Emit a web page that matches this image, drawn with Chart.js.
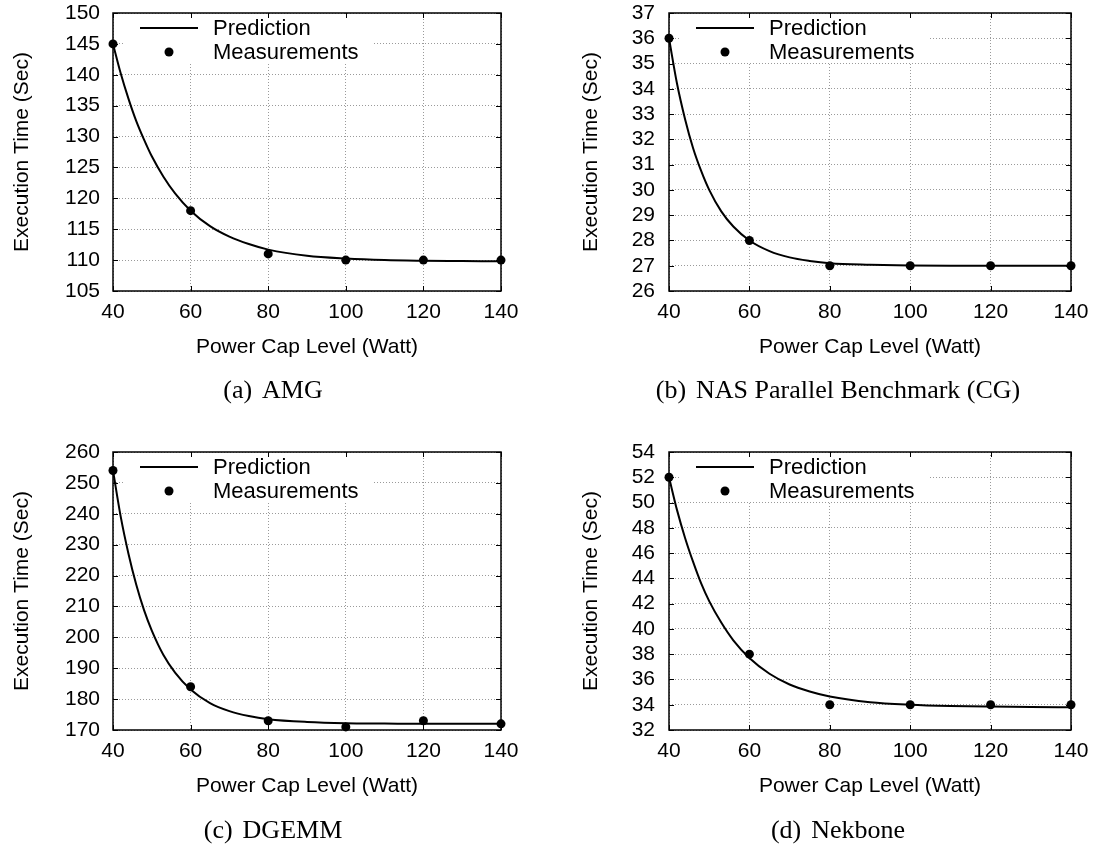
<!DOCTYPE html>
<html>
<head>
<meta charset="utf-8">
<script src="https://cdn.jsdelivr.net/npm/chart.js@4.4.0/dist/chart.umd.min.js"></script>
<style>
  html, body { margin: 0; padding: 0; background: #fff; }
  body { width: 1096px; height: 850px; position: relative; overflow: hidden; }
  canvas { position: absolute; }
  .caption {
    position: absolute;
    width: 548px;
    text-align: center;
    font-family: 'Liberation Serif', 'Times New Roman', serif;
    font-size: 26px;
    line-height: 26px;
    color: #000;
    white-space: nowrap;
  }
  .caption span { margin-right: 10px; }
</style>
</head>
<body>
<canvas id="chartA" width="548" height="411" style="left:0;top:0"></canvas>
<canvas id="chartB" width="548" height="411" style="left:548px;top:0"></canvas>
<canvas id="chartC" width="548" height="411" style="left:0;top:439px"></canvas>
<canvas id="chartD" width="548" height="411" style="left:548px;top:439px"></canvas>
<div class="caption" style="left:-1px;top:377px"><span>(a)</span>AMG</div>
<div class="caption" style="left:564px;top:377px"><span>(b)</span>NAS Parallel Benchmark (CG)</div>
<div class="caption" style="left:-1px;top:817px"><span>(c)</span>DGEMM</div>
<div class="caption" style="left:564px;top:817px"><span>(d)</span>Nekbone</div>
<script>
// power cap levels where runs were measured
const powerCaps = [40, 60, 80, 100, 120, 140];

// measured execution times (sec)
const amgMeas = [145, 118, 111, 110, 110, 110];
const cgMeas = [36, 28, 27, 27, 27, 27];
const dgemmMeas = [254, 184, 173, 171, 173, 172];
const nekMeas = [52, 38, 34, 34, 34, 34];

// prediction curve
const predCaps = [40, 42, 44, 46, 48, 50, 53, 56, 60, 65, 70, 75, 80, 90, 100, 110, 120, 130, 140];
const amgPred = [145, 140.2, 136.1, 132.5, 129.5, 126.8, 123.5, 120.8, 118.0, 115.5, 113.8, 112.6, 111.7, 110.7, 110.25, 110.0, 109.9, 109.85, 109.8];
const cgPred = [36, 34.2, 32.8, 31.65, 30.75, 30.0, 29.15, 28.55, 28.0, 27.58, 27.33, 27.19, 27.1, 27.04, 27.01, 27.0, 27.0, 27.0, 27.0];
const dgemmPred = [254, 239, 227, 217, 208.8, 202.2, 194.3, 188.6, 183.1, 178.7, 176.1, 174.5, 173.5, 172.6, 172.2, 172.1, 172.0, 172.0, 172.0];
const nekPred = [52, 49.4, 47.2, 45.3, 43.6, 42.2, 40.5, 39.1, 37.7, 36.45, 35.6, 35.05, 34.65, 34.2, 34.0, 33.9, 33.85, 33.82, 33.8];

// y axis ranges: [min, max, step]
const amgRange = [105, 150, 5];
const cgRange = [26, 37, 1];
const dgemmRange = [170, 260, 10];
const nekRange = [32, 54, 2];

const xTitle = 'Power Cap Level (Watt)';
const yTitle = 'Execution Time (Sec)';
const sansFont = "'Liberation Sans', Arial, Helvetica, sans-serif";

function toPoints(xs, ys) {
  return xs.map((x, i) => ({ x, y: ys[i] }));
}

// keep chart area exactly where the layout padding puts it
function zeroPadding(scale) {
  scale.paddingTop = 0;
  scale.paddingBottom = 0;
  scale.paddingLeft = 0;
  scale.paddingRight = 0;
}

const framePlugin = {
  id: 'frame',
  beforeDatasetsDraw(chart) {
    const { ctx, chartArea: a, scales } = chart;
    ctx.save();
    // opaque key box
    ctx.fillStyle = '#fff';
    ctx.fillRect(a.left + 12, a.top + 1, 248, 49);

    ctx.strokeStyle = '#000';
    ctx.lineWidth = 1;
    ctx.beginPath();
    scales.x.ticks.forEach((t) => {
      const px = Math.round(scales.x.getPixelForValue(t.value)) + 0.5;
      ctx.moveTo(px, a.top); ctx.lineTo(px, a.top + 5);
      ctx.moveTo(px, a.bottom); ctx.lineTo(px, a.bottom - 5);
    });
    scales.y.ticks.forEach((t) => {
      const py = Math.round(scales.y.getPixelForValue(t.value)) + 0.5;
      ctx.moveTo(a.left, py); ctx.lineTo(a.left + 5, py);
      ctx.moveTo(a.right, py); ctx.lineTo(a.right - 5, py);
    });
    ctx.stroke();

    ctx.lineWidth = 1.5;
    ctx.strokeRect(a.left, a.top, a.right - a.left, a.bottom - a.top);
    ctx.restore();
  },
  afterDatasetsDraw(chart) {
    const { ctx, chartArea: a } = chart;
    ctx.save();
    ctx.strokeStyle = '#000';
    ctx.lineWidth = 2;
    ctx.beginPath();
    ctx.moveTo(a.left + 27, a.top + 15);
    ctx.lineTo(a.left + 85, a.top + 15);
    ctx.stroke();

    ctx.fillStyle = '#000';
    ctx.beginPath();
    ctx.arc(a.left + 56, a.top + 39, 4.5, 0, Math.PI * 2);
    ctx.fill();

    ctx.font = '22px ' + sansFont;
    ctx.textAlign = 'left';
    ctx.textBaseline = 'middle';
    ctx.fillText('Prediction', a.left + 100, a.top + 16);
    ctx.fillText('Measurements', a.left + 100, a.top + 40);
    ctx.restore();
  }
};

function makeChart(canvasId, meas, pred, range, rightCol) {
  const font = { family: sansFont, size: 21 };
  const axisWidth = rightCol ? 121 : 113;

  return new Chart(document.getElementById(canvasId), {
    type: 'line',
    data: {
      datasets: [
        {
          label: 'Measurements',
          data: toPoints(powerCaps, meas),
          showLine: false,
          pointRadius: 4.5,
          pointBackgroundColor: '#000',
          pointBorderColor: '#000',
          pointBorderWidth: 0,
          clip: false
        },
        {
          label: 'Prediction',
          data: toPoints(predCaps, pred),
          borderColor: '#000',
          borderWidth: 2,
          pointRadius: 0,
          fill: false,
          cubicInterpolationMode: 'monotone',
          clip: false
        }
      ]
    },
    options: {
      responsive: false,
      animation: false,
      events: [],
      layout: {
        padding: { left: 0, top: 13, right: rightCol ? 25 : 47, bottom: 40 }
      },
      plugins: {
        legend: { display: false },
        tooltip: { enabled: false }
      },
      scales: {
        x: {
          type: 'linear',
          min: 40,
          max: 140,
          ticks: { stepSize: 20, padding: 9, color: '#000', font, autoSkip: false },
          grid: { color: '#9a9a9a', lineWidth: 1, drawTicks: false },
          border: { display: false, dash: [1, 2] },
          title: {
            display: true,
            text: xTitle,
            color: '#000',
            font,
            padding: { top: 0, bottom: 11 }
          },
          afterFit(scale) {
            scale.height = 80;
            zeroPadding(scale);
          }
        },
        y: {
          type: 'linear',
          min: range[0],
          max: range[1],
          ticks: { stepSize: range[2], padding: rightCol ? 14 : 13, color: '#000', font, autoSkip: false },
          grid: { color: '#9a9a9a', lineWidth: 1, drawTicks: false },
          border: { display: false, dash: [1, 2] },
          title: {
            display: true,
            text: yTitle,
            color: '#000',
            font,
            padding: { top: rightCol ? 31 : 10, bottom: 0 }
          },
          afterFit(scale) {
            scale.width = axisWidth;
            zeroPadding(scale);
          }
        }
      }
    },
    plugins: [framePlugin]
  });
}

makeChart('chartA', amgMeas, amgPred, amgRange, false);
makeChart('chartB', cgMeas, cgPred, cgRange, true);
makeChart('chartC', dgemmMeas, dgemmPred, dgemmRange, false);
makeChart('chartD', nekMeas, nekPred, nekRange, true);
</script>
</body>
</html>
